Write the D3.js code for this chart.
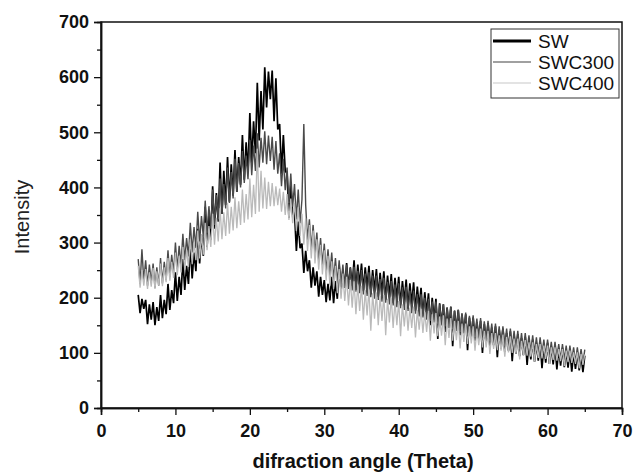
<!DOCTYPE html>
<meta charset="utf-8">
<script src="https://d3js.org/d3.v7.min.js"></script>
<style>
  body { margin: 0; background: #fff; }
  text { font-family: "Liberation Sans", Arial, sans-serif; }
</style>
<div id="xrd"></div>
<script>

// 2-theta from 5 to 65 deg, step 0.25 (241 points per series)
const thetaStart = 5, thetaStep = 0.25;

const SW = [
  205,172,198,180, 196,152,188,160, 192,150,183,158, 205,163,196,170, 225,178,214,190,
  246,194,238,205, 270,214,258,225, 296,235,282,248, 325,262,314,276, 365,292,352,305,
  402,325,390,338, 445,352,430,368, 455,374,442,385, 468,392,455,405, 495,414,482,428,
  535,445,520,462, 590,485,575,505, 618,545,610,560, 612,520,598,505, 515,425,495,430,
  425,345,405,350, 355,285,338,290, 298,245,285,248, 268,218,255,222, 248,202,238,205,
  232,192,225,195, 238,190,230,198, 258,212,250,218, 263,216,255,222, 268,214,260,222,
  262,212,255,218, 258,206,250,212, 252,202,245,208, 248,196,240,202, 243,190,236,198,
  238,186,230,192, 233,180,226,188, 228,176,220,182, 218,166,210,172, 208,150,200,160,
  198,125,190,150, 188,138,182,145, 184,112,176,140, 178,132,170,136, 170,105,164,130,
  164,122,156,126, 158,100,152,118, 154,112,146,114, 148,92,142,108, 144,102,136,104,
  139,85,132,98, 134,94,127,96, 129,78,122,88, 124,84,118,86, 121,72,115,82,
  118,80,112,79, 114,70,108,77, 109,74,104,73, 105,66,100,71, 101,68,96,65,
  95
];

const SWC300 = [
  270,225,288,230, 268,222,260,228, 262,218,255,222, 272,226,265,232, 286,238,278,245,
  300,252,294,260, 316,268,308,275, 336,282,328,290, 356,302,348,310, 376,318,366,325,
  396,332,386,342, 416,352,406,362, 436,372,428,380, 452,392,444,400, 466,408,458,415,
  486,422,476,430, 498,436,490,445, 502,442,494,448, 492,432,484,425, 462,402,452,395,
  436,372,425,365, 406,342,396,335, 378,515,368,305, 342,287,332,280, 318,266,308,260,
  298,246,288,240, 282,232,272,226, 268,222,260,218, 260,216,254,213, 256,211,249,208,
  250,206,244,203, 246,201,240,198, 240,196,234,193, 236,191,229,188, 230,186,224,183,
  226,181,219,178, 220,176,213,172, 213,171,206,166, 206,164,200,160, 198,158,193,155,
  193,153,188,150, 188,148,182,145, 183,143,177,140, 178,138,172,135, 173,133,167,130,
  168,129,162,126, 163,125,157,122, 158,121,153,118, 153,117,148,114, 148,113,144,110,
  144,109,140,107, 140,106,136,104, 136,103,132,100, 132,100,128,97, 128,97,124,94,
  124,94,120,91, 120,91,116,88, 116,88,113,86, 113,86,110,83, 110,83,107,81,
  106
];

const SWC400 = [
  258,218,250,222, 252,216,246,220, 254,216,248,222, 262,221,255,228, 272,231,265,236,
  282,241,276,246, 292,251,286,256, 306,261,300,268, 322,271,314,278, 336,286,330,292,
  352,296,345,302, 362,306,355,312, 372,316,365,322, 382,326,375,332, 396,336,388,342,
  416,346,405,352, 470,356,430,362, 418,361,410,366, 408,366,402,368, 398,356,392,350,
  388,341,380,335, 372,321,364,312, 352,296,344,285, 332,271,322,262, 306,251,296,242,
  286,231,276,222, 266,216,258,208, 252,198,244,194, 238,186,232,182, 230,170,224,176,
  222,160,214,168, 215,140,208,162, 210,150,203,158, 205,132,198,155, 200,145,194,150,
  194,130,188,148, 188,140,182,145, 184,128,178,142, 180,136,174,138, 176,122,170,135,
  172,130,166,131, 168,114,162,127, 163,122,158,123, 158,108,153,120, 153,116,148,117,
  148,104,144,114, 144,110,140,110, 140,98,136,107, 136,105,132,104, 133,93,129,101,
  130,100,126,98, 126,88,122,96, 123,95,119,93, 119,84,116,91, 116,90,113,89,
  113,80,110,87, 110,86,107,85, 107,76,104,83, 104,82,101,80, 101,72,98,78,
  97
];

const seriesNames = ["SW", "SWC300", "SWC400"];
const seriesColors = ["#000000", "#4a4a4a", "#bababa"];
const seriesWidths = [1.7, 1.4, 1.3];
const legendColors = ["#000000", "#808080", "#c8c8c8"];
const legendWidths = [3, 1.5, 1.2];

const xTicks = [0, 10, 20, 30, 40, 50, 60, 70];
const xMinor = [5, 15, 25, 35, 45, 55, 65];
const yTicks = [0, 100, 200, 300, 400, 500, 600, 700];
const yMinor = [50, 150, 250, 350, 450, 550, 650];

const margin = {top: 22, right: 13, bottom: 67, left: 101},
    width = 635 - margin.left - margin.right,
    height = 475 - margin.top - margin.bottom;

const svg = d3.select("#xrd")
  .append("svg")
    .attr("width", 635)
    .attr("height", 475)
  .append("g")
    .attr("transform", `translate(${margin.left},${margin.top})`);

const x = d3.scaleLinear().domain([0, 70]).range([0, width]);
const y = d3.scaleLinear().domain([0, 700]).range([height, 0]);

// series
const line = d3.line()
  .x((d, i) => x(thetaStart + i * thetaStep))
  .y(d => y(d));

[SW, SWC300, SWC400].forEach((data, k) => {
  svg.append("path")
    .datum(data)
    .attr("fill", "none")
    .attr("stroke", seriesColors[k])
    .attr("stroke-width", seriesWidths[k])
    .attr("stroke-linejoin", "miter")
    .attr("d", line);
});

// frame
svg.append("rect")
  .attr("width", width)
  .attr("height", height)
  .attr("fill", "none")
  .attr("stroke", "#111")
  .attr("stroke-width", 1.5);

// axes
svg.append("g")
  .attr("transform", `translate(0,${height})`)
  .call(d3.axisBottom(x).tickValues(xTicks).tickSize(7).tickPadding(9).tickFormat(d3.format("d")));
svg.append("g")
  .attr("transform", `translate(0,${height})`)
  .call(d3.axisBottom(x).tickValues(xMinor).tickSize(4).tickFormat(""));

svg.append("g")
  .call(d3.axisLeft(y).tickValues(yTicks).tickSize(7).tickPadding(5).tickFormat(d3.format("d")));
svg.append("g")
  .call(d3.axisLeft(y).tickValues(yMinor).tickSize(4).tickFormat(""));

svg.selectAll(".domain").attr("stroke", "#111").attr("stroke-width", 1.5);
svg.selectAll(".tick line").attr("stroke", "#111").attr("stroke-width", 1.3);
svg.selectAll(".tick text")
  .attr("fill", "#111")
  .style("font-size", "18px")
  .style("font-weight", "bold")
  .style("font-family", "'Liberation Sans', Arial, sans-serif");

// axis titles
svg.append("text")
  .attr("x", 262)
  .attr("y", 446)
  .attr("text-anchor", "middle")
  .style("font-size", "20px")
  .style("font-weight", "bold")
  .attr("fill", "#111")
  .text("difraction angle (Theta)");

svg.append("text")
  .attr("transform", "rotate(-90)")
  .attr("x", -195)
  .attr("y", -72)
  .attr("text-anchor", "middle")
  .style("font-size", "20px")
  .attr("fill", "#222")
  .text("Intensity");

// legend
const legend = svg.append("g")
  .attr("transform", `translate(${x(70) - 131},7)`);
legend.append("rect")
  .attr("width", 128)
  .attr("height", 69)
  .attr("fill", "#fff")
  .attr("stroke", "#333")
  .attr("stroke-width", 1);
seriesNames.forEach((name, k) => {
  const g = legend.append("g").attr("transform", `translate(0,${12 + k * 21})`);
  g.append("line")
    .attr("x1", 2).attr("x2", 40)
    .attr("stroke", legendColors[k])
    .attr("stroke-width", legendWidths[k]);
  g.append("text")
    .attr("x", 47)
    .attr("dy", "0.36em")
    .style("font-size", "19px")
    .attr("fill", "#111")
    .text(name);
});
</script>
